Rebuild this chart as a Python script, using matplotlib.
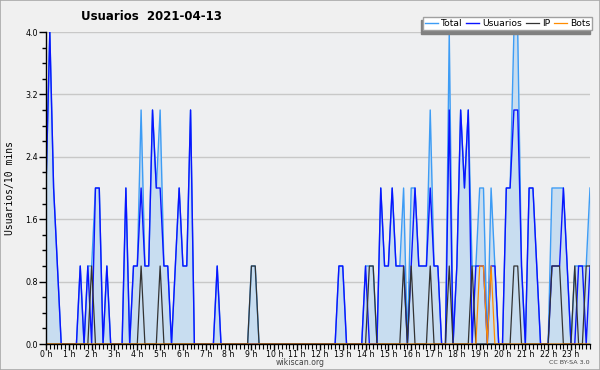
import matplotlib
matplotlib.use("Agg")
import matplotlib.pyplot as plt
from matplotlib.ticker import FixedLocator, MultipleLocator
from matplotlib.patches import Rectangle
import numpy as np

# 10-minute slots over 24 h (144 points)
usuarios = [2, 4, 2, 1, 0, 0, 0, 0, 0, 1, 0, 1, 0, 2, 2, 0, 1, 0, 0, 0,
            0, 2, 0, 1, 1, 2, 1, 1, 3, 2, 2, 1, 1, 0, 1, 2, 1, 1, 3, 0,
            0, 0, 0, 0, 0, 1, 0, 0, 0, 0, 0, 0, 0, 0, 0, 0, 0, 0, 0, 0,
            0, 0, 0, 0, 0, 0, 0, 0, 0, 0, 0, 0, 0, 0, 0, 0, 0, 1, 1, 0,
            0, 0, 0, 0, 1, 0, 0, 0, 2, 1, 1, 2, 1, 1, 1, 0, 1, 2, 1, 1,
            1, 2, 1, 1, 0, 0, 3, 0, 1, 3, 2, 3, 0, 1, 1, 1, 0, 1, 1, 0,
            0, 2, 2, 3, 3, 1, 0, 2, 2, 1, 0, 0, 0, 1, 1, 1, 2, 1, 0, 0,
            1, 1, 0, 1]
ip_slots = [12, 25, 30, 54, 55, 85, 86, 94, 96, 101, 106, 112, 123, 124,
            133, 134, 135, 139, 142, 143]
bots_slots = [114, 115, 117]

ip = [1 if i in ip_slots else 0 for i in range(len(usuarios))]
bots = [1 if i in bots_slots else 0 for i in range(len(usuarios))]
total = [u + p + b for u, p, b in zip(usuarios, ip, bots)]

hours = list(range(24))
hour_labels = [f"{h} h" for h in hours]
y_major = [0.0, 0.8, 1.6, 2.4, 3.2, 4.0]

x = np.arange(len(usuarios))

fig = plt.figure(figsize=(6.0, 3.7), dpi=100, facecolor="#f0f0f0")
ax = fig.add_axes([46/600, 26/370, 544/600, 312/370])
ax.set_facecolor("#eeeff1")

ax.fill_between(x, total, 0, color="#c8ddf0", linewidth=0, zorder=1)
ax.plot(x, total, color="#3d9cf5", lw=1.0, label="Total", zorder=3)
ax.plot(x, usuarios, color="#0a14ff", lw=1.0, label="Usuarios", zorder=4)
ax.plot(x, ip, color="#333333", lw=0.9, label="IP", zorder=5)
ax.plot(x, bots, color="#ff8c00", lw=0.9, label="Bots", zorder=6)

ax.set_xlim(0, len(usuarios) - 1)
ax.set_ylim(0, 4.0)

ax.yaxis.set_major_locator(FixedLocator(y_major))
ax.set_yticklabels([f"{v:.1f}" for v in y_major])
ax.yaxis.set_minor_locator(MultipleLocator(0.2))
ax.xaxis.set_major_locator(FixedLocator([6 * h for h in hours]))
ax.set_xticklabels(hour_labels)
ax.xaxis.set_minor_locator(MultipleLocator(1))

ax.tick_params(axis="y", which="major", length=5, width=1, pad=1, labelsize=5.8)
ax.tick_params(axis="y", which="minor", length=3, width=1)
ax.tick_params(axis="x", which="major", length=4, width=1, pad=0.5, labelsize=5.6)
ax.tick_params(axis="x", which="minor", length=3.5, width=0.8)

ax.grid(axis="y", which="major", color="#c8c8c8", lw=1.0, zorder=0)
ax.set_axisbelow(True)
for s in ["top", "right"]:
    ax.spines[s].set_visible(False)
for s in ["left", "bottom"]:
    ax.spines[s].set_color("black")
    ax.spines[s].set_linewidth(1.0)
    ax.spines[s].set_zorder(10)

fig.text(151/600, 1 - 17/370, "Usuarios  2021-04-13", ha="center", va="center",
         fontsize=8.5, fontweight="bold")
fig.text(10/600, 1 - 188/370, "Usuarios/10 mins", rotation=90, ha="center",
         va="center", fontsize=7, family="DejaVu Sans Mono")
fig.text(300/600, 1 - 362.5/370, "wikiscan.org", ha="center", va="center",
         fontsize=5.6, color="#444444")
fig.text(590/600, 1 - 362.5/370, "CC BY-SA 3.0", ha="right", va="center",
         fontsize=4.6, color="#444444")

leg = fig.legend(loc="upper right", bbox_to_anchor=(592/600, 1 - 17/370), ncol=4,
                 fontsize=6.6, frameon=True, fancybox=False, handlelength=1.4,
                 handletextpad=0.35, columnspacing=0.4, borderpad=0.22,
                 borderaxespad=0,
                 shadow={"ox": -1.5, "oy": -2.5, "color": "#808080", "alpha": 1})
leg.get_frame().set_edgecolor("#a0a0a0")
leg.get_frame().set_facecolor("white")
leg.get_frame().set_linewidth(1.0)

fig.patches.append(Rectangle((0, 0), 1, 1, transform=fig.transFigure,
                             fill=False, edgecolor="#a8a8a8", lw=1.2))

fig.savefig("out.png", dpi=100, facecolor=fig.get_facecolor())
